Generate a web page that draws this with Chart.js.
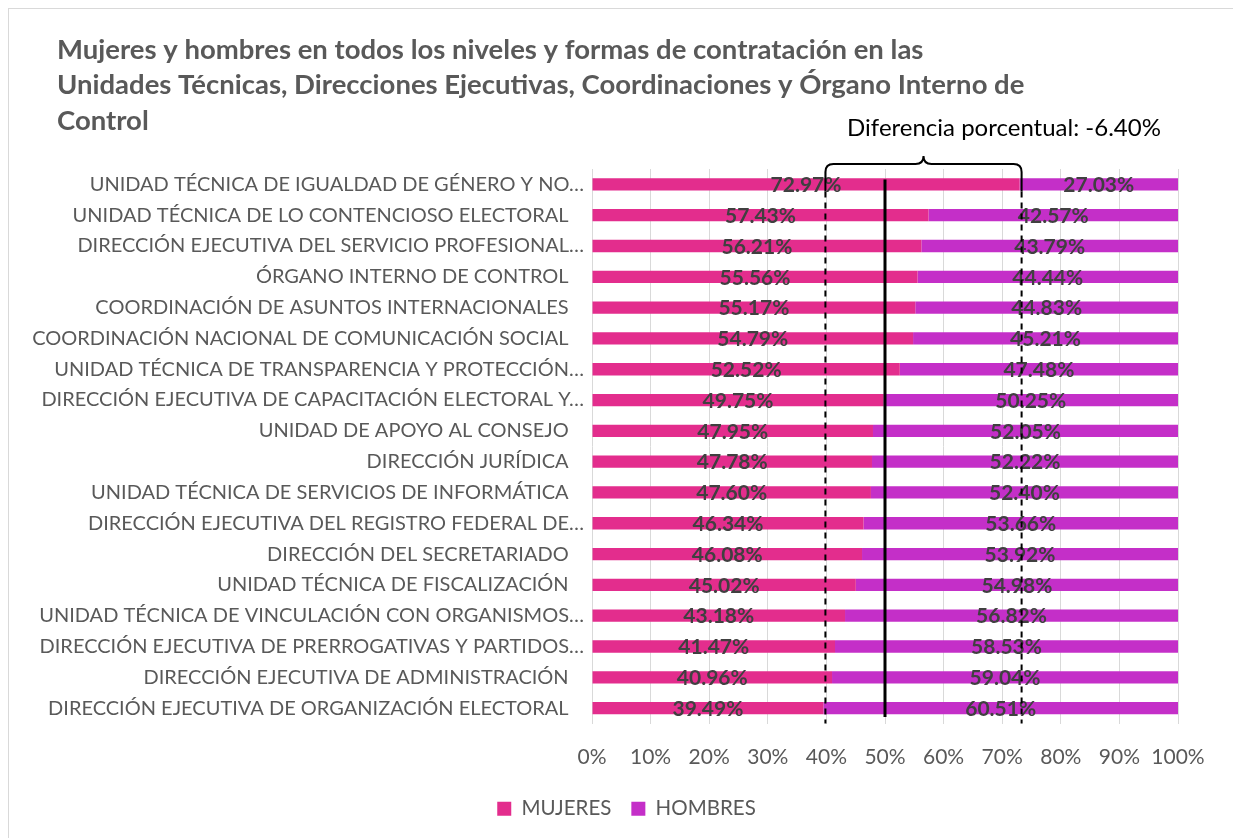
<!DOCTYPE html>
<html lang="es">
<head>
<meta charset="utf-8">
<title>Mujeres y hombres por unidad</title>
<script src="https://cdn.jsdelivr.net/npm/chart.js@4.4.1/dist/chart.umd.min.js"></script>
<style>
  html, body { margin: 0; padding: 0; background: #fff; overflow: hidden; }
  .marco { position: absolute; left: 8px; top: 8px; width: 1400px; height: 1000px; border: 1px solid #d9d9d9; }
  #grafica { position: absolute; left: 0; top: 0; }
</style>
</head>
<body>
<div class="marco"></div>
<canvas id="grafica" width="1233" height="838"></canvas>
<script>
// Datos
const categorias = [
    'UNIDAD TÉCNICA DE IGUALDAD DE GÉNERO Y NO…',
    'UNIDAD TÉCNICA DE LO CONTENCIOSO ELECTORAL   ',
    'DIRECCIÓN EJECUTIVA DEL SERVICIO PROFESIONAL…',
    'ÓRGANO INTERNO DE CONTROL   ',
    'COORDINACIÓN DE ASUNTOS INTERNACIONALES   ',
    'COORDINACIÓN NACIONAL DE COMUNICACIÓN SOCIAL   ',
    'UNIDAD TÉCNICA DE TRANSPARENCIA Y PROTECCIÓN…',
    'DIRECCIÓN EJECUTIVA DE CAPACITACIÓN ELECTORAL Y…',
    'UNIDAD DE APOYO AL CONSEJO   ',
    'DIRECCIÓN JURÍDICA   ',
    'UNIDAD TÉCNICA DE SERVICIOS DE INFORMÁTICA   ',
    'DIRECCIÓN EJECUTIVA DEL REGISTRO FEDERAL DE…',
    'DIRECCIÓN DEL SECRETARIADO   ',
    'UNIDAD TÉCNICA DE FISCALIZACIÓN   ',
    'UNIDAD TÉCNICA DE VINCULACIÓN CON ORGANISMOS…',
    'DIRECCIÓN EJECUTIVA DE PRERROGATIVAS Y PARTIDOS…',
    'DIRECCIÓN EJECUTIVA DE ADMINISTRACIÓN   ',
    'DIRECCIÓN EJECUTIVA DE ORGANIZACIÓN ELECTORAL   '
];
const mujeres = [72.97, 57.43, 56.21, 55.56, 55.17, 54.79, 52.52, 49.75, 47.95, 47.78, 47.60, 46.34, 46.08, 45.02, 43.18, 41.47, 40.96, 39.49];
const hombres = [27.03, 42.57, 43.79, 44.44, 44.83, 45.21, 47.48, 50.25, 52.05, 52.22, 52.40, 53.66, 53.92, 54.98, 56.82, 58.53, 59.04, 60.51];
const titulo = [
    'Mujeres y hombres en todos los niveles y formas de contratación en las',
    'Unidades Técnicas, Direcciones Ejecutivas, Coordinaciones y Órgano Interno de',
    'Control'
];
const textoDiferencia = 'Diferencia porcentual: -6.40%';
const lineaParidad = 50;

const FUENTE = 'Lato, "Open Sans", sans-serif';
const GRIS = '#595959';

// Títulos, etiquetas, líneas de referencia y llave
const extras = {
    id: 'extras',
    afterLayout(chart) {
        // la leyenda va un poco a la derecha, como en el original
        chart.legend.left += 28;
        chart.legend.right += 28;
    },
    afterDatasetsDraw(chart) {
        const ctx = chart.ctx;
        ctx.save();
        ctx.font = 'bold 21px ' + FUENTE;
        ctx.fillStyle = '#404040';
        ctx.textAlign = 'center';
        ctx.textBaseline = 'middle';
        chart.data.datasets.forEach((ds, i) => {
            chart.getDatasetMeta(i).data.forEach((bar, j) => {
                const x = (bar.x + bar.base) / 2;
                ctx.fillText(ds.data[j].toFixed(2) + '%', x, bar.y + 1);
            });
        });
        ctx.restore();
    },
    afterDraw(chart) {
        const ctx = chart.ctx;
        const xs = chart.scales.x;
        const area = chart.chartArea;
        const metas = chart.getDatasetMeta(0).data;
        const primera = metas[0];
        const ultima = metas[metas.length - 1];

        ctx.save();
        // línea del 50%
        const x50 = xs.getPixelForValue(lineaParidad);
        ctx.strokeStyle = '#000';
        ctx.lineWidth = 3;
        ctx.beginPath();
        ctx.moveTo(x50, primera.y - 5);
        ctx.lineTo(x50, ultima.y + 9);
        ctx.stroke();

        // líneas punteadas en el mínimo y máximo de mujeres
        const xMin = xs.getPixelForValue(Math.min(...mujeres)) + 2;
        const xMax = xs.getPixelForValue(Math.max(...mujeres)) + 2;
        ctx.lineWidth = 2;
        ctx.setLineDash([6, 5]);
        [xMin, xMax].forEach(x => {
            ctx.beginPath();
            ctx.moveTo(x, primera.y + 7);
            ctx.lineTo(x, area.bottom);
            ctx.stroke();
        });
        ctx.setLineDash([]);

        // llave
        const yTop = 164, yPico = 156, yPata = primera.y + 7, r = 8;
        const xm = (xMin + xMax) / 2;
        ctx.beginPath();
        ctx.moveTo(xMin, yPata);
        ctx.lineTo(xMin, yTop + r);
        ctx.quadraticCurveTo(xMin, yTop, xMin + r, yTop);
        ctx.lineTo(xm - r, yTop);
        ctx.quadraticCurveTo(xm, yTop, xm, yPico);
        ctx.quadraticCurveTo(xm, yTop, xm + r, yTop);
        ctx.lineTo(xMax - r, yTop);
        ctx.quadraticCurveTo(xMax, yTop, xMax, yTop + r);
        ctx.lineTo(xMax, yPata);
        ctx.stroke();

        ctx.fillStyle = '#000';
        ctx.font = '24px ' + FUENTE;
        ctx.textAlign = 'center';
        ctx.textBaseline = 'middle';
        ctx.fillText(textoDiferencia, 1004, 128);

        // título
        ctx.fillStyle = GRIS;
        ctx.font = 'bold 27.5px ' + FUENTE;
        ctx.textAlign = 'left';
        titulo.forEach((linea, i) => ctx.fillText(linea, 57, 50 + i * 35.5));
        ctx.restore();
    }
};

new Chart(document.getElementById('grafica'), {
    type: 'bar',
    data: {
        labels: categorias,
        datasets: [
            { label: 'MUJERES', data: mujeres, backgroundColor: '#E32D8D' },
            { label: 'HOMBRES', data: hombres, backgroundColor: '#C42FC8' }
        ]
    },
    options: {
        indexAxis: 'y',
        responsive: false,
        animation: false,
        layout: { padding: { top: 169, right: 55, left: 19, bottom: 9 } },
        datasets: { bar: { categoryPercentage: 1, barPercentage: 0.4 } },
        plugins: {
            legend: {
                position: 'bottom',
                labels: {
                    boxWidth: 14,
                    boxHeight: 14,
                    color: GRIS,
                    font: { family: FUENTE, size: 20.5 },
                    padding: 20
                }
            },
            tooltip: { enabled: false }
        },
        scales: {
            x: {
                stacked: true,
                min: 0,
                max: 100,
                ticks: {
                    stepSize: 10,
                    color: GRIS,
                    padding: 21,
                    maxRotation: 0,
                    minRotation: 0,
                    autoSkip: false,
                    font: { family: FUENTE, size: 21 },
                    callback: v => v + '%'
                },
                grid: { color: '#d9d9d9', drawTicks: false },
                border: { display: false },
                afterFit: scale => { scale.height = 55; }
            },
            y: {
                stacked: true,
                ticks: {
                    color: GRIS,
                    padding: 0,
                    autoSkip: false,
                    font: { family: FUENTE, size: 20 }
                },
                grid: { display: false },
                border: { display: false },
                afterFit: scale => { scale.width = 573; }
            }
        }
    },
    plugins: [extras]
});
</script>
</body>
</html>
